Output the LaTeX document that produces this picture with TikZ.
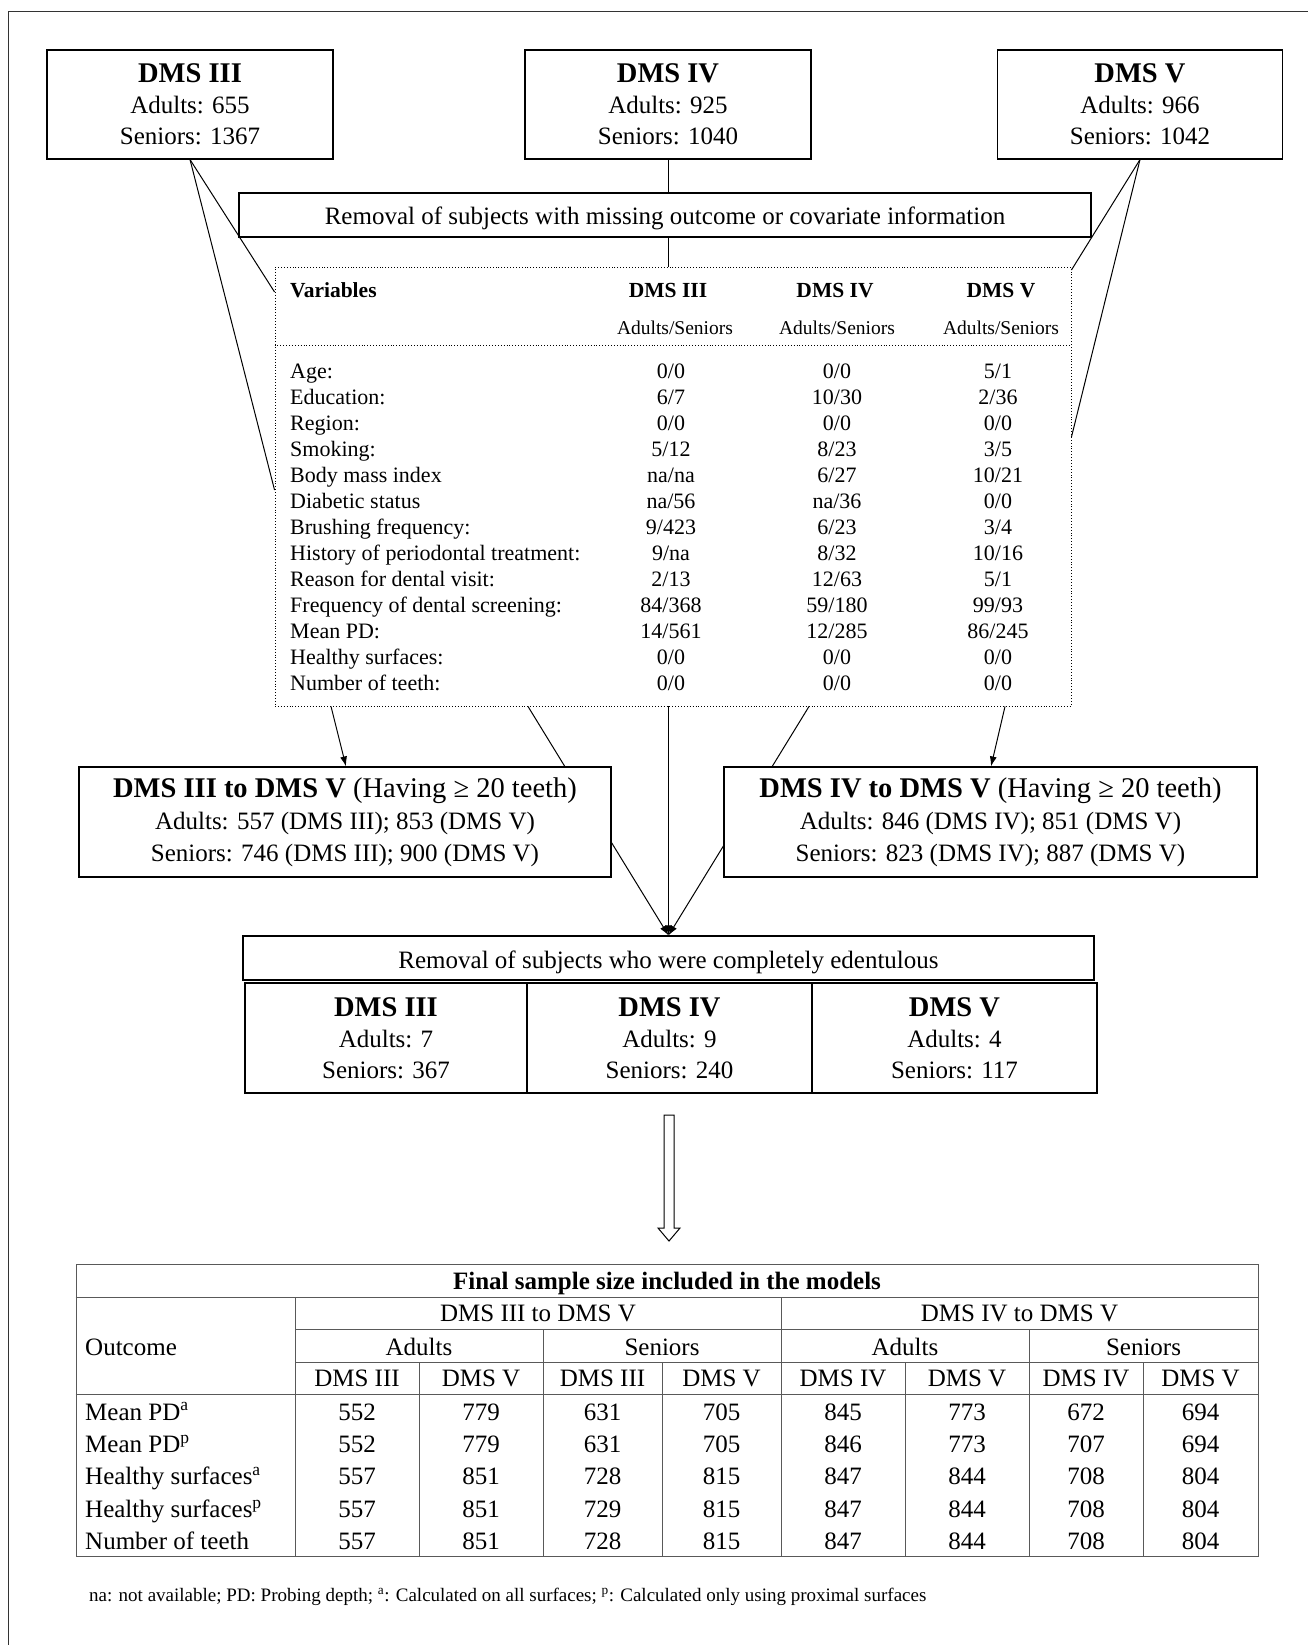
\documentclass[tikz,border=0pt]{standalone}
\usepackage{fontspec}
\setmainfont{Liberation Serif}
\usepackage{tikz}
\usetikzlibrary{arrows.meta,positioning}

\tikzset{
  surveybox/.style={draw, line width=1.1pt, fill=white, align=center, inner sep=0pt,
    font=\fontsize{25}{31}\selectfont},
  pairbox/.style={draw, line width=1.1pt, fill=white, align=center, inner sep=0pt,
    font=\fontsize{25}{32}\selectfont},
  removalbox/.style={draw, line width=1.1pt, fill=white, inner sep=0pt,
    text height=20pt, text depth=0pt, font=\fontsize{25}{30}\selectfont},
  varcell/.style={anchor=base west, inner sep=0pt, font=\fontsize{22}{26}\selectfont},
  valcell/.style={anchor=base, inner sep=0pt, font=\fontsize{22}{26}\selectfont},
  subhead/.style={anchor=base, inner sep=0pt, font=\fontsize{19.5}{22}\selectfont},
  flow/.style={line width=1pt, -{Latex[length=10pt,width=7pt]}},
  plainline/.style={line width=1pt},
  tabline/.style={line width=1pt, draw=black!65},
  tabcell/.style={anchor=base, inner sep=0pt, font=\fontsize{25}{30}\selectfont},
}
\newcommand{\boxtitle}[1]{{\fontsize{28.5}{31}\selectfont\bfseries #1}}
\newcommand{\pairtitle}[1]{{\fontsize{28.5}{32}\selectfont #1}}

\begin{document}
\begin{tikzpicture}[x=1pt,y=-1pt]
    \useasboundingbox (0,0) rectangle (1308,1645);

    % Frame
    \draw[line width=0.8pt, black!80] (8,1645) -- (8,11) -- (1308,11);

    % Surveys
    \node[surveybox, minimum width=286pt, minimum height=109pt] (dms3) at (190,104.5)
        {\boxtitle{DMS III}\\Adults: 655\\Seniors: 1367};
    \node[surveybox, minimum width=286pt, minimum height=109pt] (dms4) at (668,104.5)
        {\boxtitle{DMS IV}\\Adults: 925\\Seniors: 1040};
    \node[surveybox, minimum width=285pt, minimum height=109pt] (dms5) at (1140,104.5)
        {\boxtitle{DMS V}\\Adults: 966\\Seniors: 1042};

    % First removal step
    \node[removalbox, minimum width=852pt, minimum height=44pt] (rem1) at (665,215)
        {Removal of subjects with missing outcome or covariate information};

    % Missing values table
    \node[draw, dotted, line width=0.9pt, minimum width=796pt, minimum height=439pt, inner sep=0pt] (vars) at (673,486.5) {};
    \draw[dotted, line width=0.9pt] (vars.west |- 0,345) -- (vars.east |- 0,345);

    \draw[plainline] (dms4.south) -- (dms4.south |- rem1.north);
    \draw[plainline] (dms4.south |- rem1.south) -- (dms4.south |- vars.north);
    \draw[plainline] (dms3.south) -- (vars.west |- 0,292);
    \draw[plainline] (dms3.south) -- (vars.west |- 0,490);
    \draw[plainline] (dms5.south) -- (vars.east |- 0,270);
    \draw[plainline] (dms5.south) -- (vars.east |- 0,437);

    \node[varcell, font=\fontsize{21.5}{26}\selectfont\bfseries] (varhead) at (290,297) {Variables};
    \node[valcell, font=\fontsize{21.5}{26}\selectfont\bfseries] (head3) at (668,297) {DMS III};
    \node[valcell, font=\fontsize{21.5}{26}\selectfont\bfseries] (head4) at (835,297) {DMS IV};
    \node[valcell, font=\fontsize{21.5}{26}\selectfont\bfseries] (head5) at (1001,297) {DMS V};
    \node[subhead] (sub3) at (675,334) {Adults/Seniors};
    \node[subhead] (sub4) at (837,334) {Adults/Seniors};
    \node[subhead] (sub5) at (1001,334) {Adults/Seniors};

    \foreach \lab/\va/\vb/\vc [count=\r from 0] in {
        Age:/{0/0}/{0/0}/{5/1},
        Education:/{6/7}/{10/30}/{2/36},
        Region:/{0/0}/{0/0}/{0/0},
        Smoking:/{5/12}/{8/23}/{3/5},
        Body mass index/{na/na}/{6/27}/{10/21},
        Diabetic status/{na/56}/{na/36}/{0/0},
        Brushing frequency:/{9/423}/{6/23}/{3/4},
        History of periodontal treatment:/{9/na}/{8/32}/{10/16},
        Reason for dental visit:/{2/13}/{12/63}/{5/1},
        Frequency of dental screening:/{84/368}/{59/180}/{99/93},
        Mean PD:/{14/561}/{12/285}/{86/245},
        Healthy surfaces:/{0/0}/{0/0}/{0/0},
        Number of teeth:/{0/0}/{0/0}/{0/0}}
    {
        \node[varcell] (var\r) at (290,378+26*\r) {\lab};
        \node[valcell] (miss3\r) at (671,378+26*\r) {\va};
        \node[valcell] (miss4\r) at (837,378+26*\r) {\vb};
        \node[valcell] (miss5\r) at (998,378+26*\r) {\vc};
    }

    % Second removal step
    \node[removalbox, minimum width=851pt, minimum height=44pt] (rem2) at (668.5,958)
        {Removal of subjects who were completely edentulous};

    \draw[flow] (528,0 |- vars.south) -- (rem2.north);
    \draw[flow] (809,0 |- vars.south) -- (rem2.north);
    \draw[flow] (vars.south -| rem2.north) -- (rem2.north);

    % Survey pairs
    \node[pairbox, minimum width=532pt, minimum height=110pt] (pair35) at (345,822)
        {\pairtitle{\textbf{DMS III to DMS V} (Having ≥ 20 teeth)}\\Adults: 557 (DMS III); 853 (DMS V)\\Seniors: 746 (DMS III); 900 (DMS V)};
    \node[pairbox, minimum width=533pt, minimum height=110pt] (pair45) at (990.5,822)
        {\pairtitle{\textbf{DMS IV to DMS V} (Having ≥ 20 teeth)}\\Adults: 846 (DMS IV); 851 (DMS V)\\Seniors: 823 (DMS IV); 887 (DMS V)};

    \draw[flow] (331,0 |- vars.south) -- (346,0 |- pair35.north);
    \draw[flow] (1005,0 |- vars.south) -- (991,0 |- pair45.north);

    % Edentulous subjects
    \node[surveybox, minimum width=282pt, minimum height=110pt] (cut3) at (386,1038)
        {\boxtitle{DMS III}\\Adults: 7\\Seniors: 367};
    \node[surveybox, minimum width=285pt, minimum height=110pt] (cut4) at (669.5,1038)
        {\boxtitle{DMS IV}\\Adults: 9\\Seniors: 240};
    \node[surveybox, minimum width=285pt, minimum height=110pt] (cut5) at (954.5,1038)
        {\boxtitle{DMS V}\\Adults: 4\\Seniors: 117};

    % Hollow arrow
    \draw[line width=1pt, fill=white] (664,1115) -- (674,1115) -- (674,1228) -- (680,1228)
        -- (669,1241) -- (658,1228) -- (664,1228) -- cycle;

    % Final table
    \node[draw=black!65, line width=1pt, minimum width=1182pt, minimum height=292pt, inner sep=0pt] (final) at (667,1410) {};
    \draw[tabline] (final.west |- 0,1297) -- (final.east |- 0,1297);
    \draw[tabline] (295,1329) -- (final.east |- 0,1329);
    \draw[tabline] (295,1362) -- (final.east |- 0,1362);
    \draw[tabline] (final.west |- 0,1394) -- (final.east |- 0,1394);
    \foreach \x in {295,781}
        \draw[tabline] (\x,1297) -- (\x,0 |- final.south);
    \foreach \x in {543,1029}
        \draw[tabline] (\x,1329) -- (\x,0 |- final.south);
    \foreach \x in {419,662,905,1143}
        \draw[tabline] (\x,1362) -- (\x,0 |- final.south);

    \node[tabcell, font=\fontsize{25}{30}\selectfont\bfseries] (ftitle) at (667,1289) {Final sample size included in the models};
    \node[tabcell] (span3) at (538,1321.7) {DMS III to DMS V};
    \node[tabcell] (span4) at (1019.5,1321.7) {DMS IV to DMS V};
    \node[tabcell, anchor=base west] (outcome) at (85,1355) {Outcome};
    \foreach \x/\g [count=\i] in {419/Adults,662/Seniors,905/Adults,1143.5/Seniors}
        \node[tabcell] (grp\i) at (\x,1355) {\g};
    \foreach \x/\s [count=\i] in {357/DMS III,481/DMS V,602.5/DMS III,721.5/DMS V,843/DMS IV,967/DMS V,1086/DMS IV,1200.5/DMS V}
        \node[tabcell] (wave\i) at (\x,1386.7) {\s};

    \foreach \lab/\vals [count=\r from 0] in {
        {Mean PD\textsuperscript{a}}/{552,779,631,705,845,773,672,694},
        {Mean PD\textsuperscript{p}}/{552,779,631,705,846,773,707,694},
        {Healthy surfaces\textsuperscript{a}}/{557,851,728,815,847,844,708,804},
        {Healthy surfaces\textsuperscript{p}}/{557,851,729,815,847,844,708,804},
        {Number of teeth}/{557,851,728,815,847,844,708,804}}
    {
        \node[tabcell, anchor=base west] (outc\r) at (85,1420+32.4*\r) {\lab};
        \foreach \v [count=\c from 0] in \vals {
            \pgfmathsetmacro{\xc}{{357,481,602.5,721.5,843,967,1086,1200.5}[\c]}
            \node[tabcell] (n\r\c) at (\xc,1420+32.4*\r) {\v};
        }
    }

    % Footnote
    \node[anchor=base west, inner sep=0pt, font=\fontsize{19}{22}\selectfont] (note) at (89,1601)
        {na: not available; PD: Probing depth; \textsuperscript{a}: Calculated on all surfaces; \textsuperscript{p}: Calculated only using proximal surfaces};
\end{tikzpicture}
\end{document}
